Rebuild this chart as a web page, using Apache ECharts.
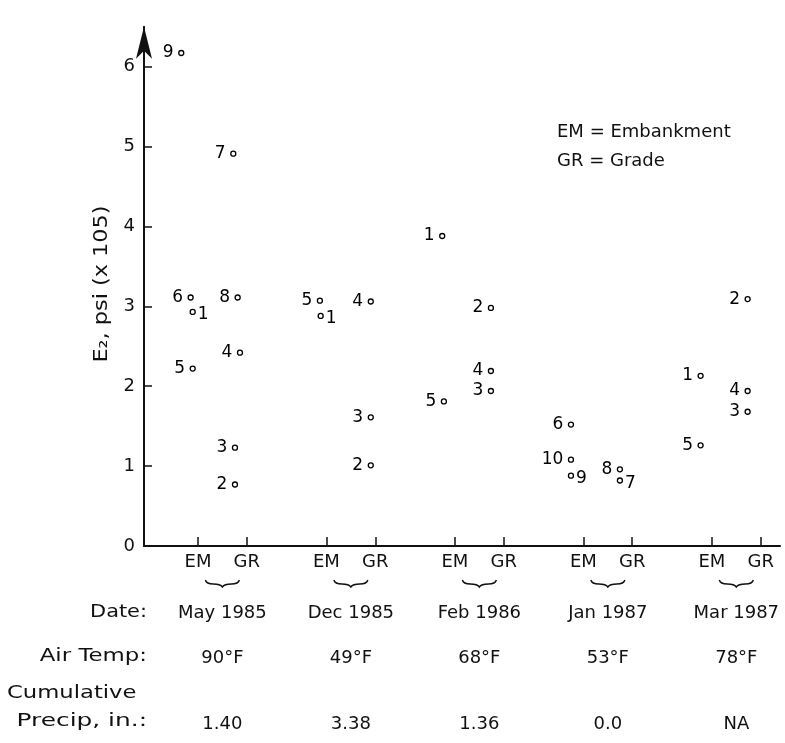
<!DOCTYPE html>
<html>
<head>
<meta charset="utf-8">
<script src="https://cdn.jsdelivr.net/npm/echarts@6/dist/echarts.min.js"></script>
<style>
html,body{margin:0;padding:0;background:#fff;}
#chart{width:785px;height:743px;}
</style>
</head>
<body>
<div id="chart"></div>
<script>
// ---- data ----
const dates = ['May 1985', 'Dec 1985', 'Feb 1986', 'Jan 1987', 'Mar 1987'];
const airTemps = ['90°F', '49°F', '68°F', '53°F', '78°F'];
const precips = ['1.40', '3.38', '1.36', '0.0', 'NA'];
const siteTicks = [0, 0.38, 1, 1.38, 2, 2.38, 3, 3.38, 4, 4.38];
const siteNames = ['EM', 'GR', 'EM', 'GR', 'EM', 'GR', 'EM', 'GR', 'EM', 'GR'];
const yTicks = [0, 1, 2, 3, 4, 5, 6];

const pointLabels = ['9','6','1','5','7','8','4','3','2','5','1','4','3','2','1','5','2','4','3','6','10','9','8','7','1','5','2','4','3'];
const pointX = [-0.13,-0.057,-0.041,-0.041,0.275,0.309,0.327,0.288,0.288,0.949,0.955,1.345,1.345,1.345,1.901,1.914,2.28,2.28,2.28,2.903,2.903,2.903,3.284,3.284,3.912,3.912,4.278,4.278,4.278];
const pointY = [6.17,3.11,2.93,2.22,4.91,3.11,2.42,1.23,0.77,3.07,2.88,3.06,1.61,1.01,3.88,1.81,2.98,2.19,1.94,1.52,1.08,0.88,0.96,0.82,2.13,1.26,3.09,1.94,1.68];
const labelSide = ['L','L','R','L','L','L','L','L','L','L','R','L','L','L','L','L','L','L','L','L','L','R','L','R','L','L','L','L','L'];

const FONT = 'DejaVu Sans';
const INK = '#111';

const chart = echarts.init(document.getElementById('chart'), null, {renderer: 'canvas'});

const scatterData = pointX.map((x, i) => ({
  value: [x, pointY[i]],
  label: labelSide[i] === 'R'
    ? {position: 'right', distance: 2, offset: [0, 3]}
    : {position: 'left', distance: 4.5}
}));

const option = {
  animation: false,
  backgroundColor: '#fff',
  grid: {left: 144, right: 5, top: 26.65, bottom: 197, containLabel: false, outerBoundsMode: 'none'},
  xAxis: {
    type: 'value', min: -0.42, max: 4.53,
    splitLine: {show: false},
    axisLine: {show: true, onZero: false, lineStyle: {color: INK, width: 2}},
    axisTick: {show: true, inside: true, length: 9, customValues: siteTicks, lineStyle: {color: INK, width: 1.5}},
    axisLabel: {
      show: true, customValues: siteTicks, margin: 7,
      fontFamily: FONT, fontSize: 18, color: INK,
      formatter: v => siteNames[siteTicks.findIndex(t => Math.abs(t - v) < 1e-6)] || ''
    }
  },
  yAxis: {
    type: 'value', min: 0, max: 6.5,
    splitLine: {show: false},
    axisLine: {show: true, onZero: false, symbol: ['none', 'arrow'], symbolSize: [12, 32], lineStyle: {color: INK, width: 2}},
    axisTick: {show: true, inside: true, length: 8, customValues: yTicks, lineStyle: {color: INK, width: 1.5}},
    axisLabel: {show: true, customValues: yTicks, margin: 9, fontFamily: FONT, fontSize: 18, color: INK}
  },
  series: [
    {
      type: 'scatter',
      data: scatterData,
      symbol: 'circle', symbolSize: 5,
      itemStyle: {color: '#fff', borderColor: '#000', borderWidth: 1.3, opacity: 1},
      label: {show: true, fontFamily: FONT, fontSize: 17, color: '#000', opacity: 1,
        formatter: p => pointLabels[p.dataIndex]},
      emphasis: {disabled: true},
      clip: false,
      silent: true
    },
    {
      type: 'custom',
      clip: false,
      silent: true,
      data: dates.map((d, i) => [i, 0]),
      renderItem: function (params, api) {
        const i = api.value(0);
        const p = api.coord([i + 0.19, 0]);
        const txt = (s, dy) => ({
          type: 'text', x: p[0], y: p[1] + dy,
          style: {text: s, fontFamily: FONT, fontSize: 18, fill: INK, align: 'center', verticalAlign: 'middle'}
        });
        return {
          type: 'group',
          children: [
            {type: 'path', x: p[0], y: p[1] + 37,
              shape: {pathData: 'M-17,-3 Q-16,1 -9,1 Q-2,1 0,4 Q2,1 9,1 Q16,1 17,-3', x: -17, y: -3, width: 34, height: 7, layout: 'cover'},
              style: {fill: 'none', stroke: INK, lineWidth: 1.4}},
            txt(dates[i], 67),
            txt(airTemps[i], 112),
            txt(precips[i], 178)
          ]
        };
      }
    }
  ],
  graphic: [
    {type: 'text', x: 102, y: 284, rotation: Math.PI / 2, scaleX: 1.12,
      style: {text: 'E₂, psi (x 105)', fontFamily: FONT, fontSize: 20, fill: INK, align: 'center', verticalAlign: 'middle'}},
    {type: 'text', x: 557, y: 132,
      style: {text: 'EM = Embankment', fontFamily: FONT, fontSize: 18, fill: INK, align: 'left', verticalAlign: 'middle'}},
    {type: 'text', x: 557, y: 161,
      style: {text: 'GR = Grade', fontFamily: FONT, fontSize: 18, fill: INK, align: 'left', verticalAlign: 'middle'}},
    {type: 'text', x: 147, y: 612, scaleX: 1.16,
      style: {text: 'Date:', fontFamily: FONT, fontSize: 18, fill: INK, align: 'right', verticalAlign: 'middle'}},
    {type: 'text', x: 147, y: 656, scaleX: 1.27,
      style: {text: 'Air Temp:', fontFamily: FONT, fontSize: 18, fill: INK, align: 'right', verticalAlign: 'middle'}},
    {type: 'text', x: 7, y: 693, scaleX: 1.26,
      style: {text: 'Cumulative', fontFamily: FONT, fontSize: 18, fill: INK, align: 'left', verticalAlign: 'middle'}},
    {type: 'text', x: 147, y: 721, scaleX: 1.38,
      style: {text: 'Precip, in.:', fontFamily: FONT, fontSize: 18, fill: INK, align: 'right', verticalAlign: 'middle'}}
  ]
};
chart.setOption(option);
</script>
</body>
</html>
